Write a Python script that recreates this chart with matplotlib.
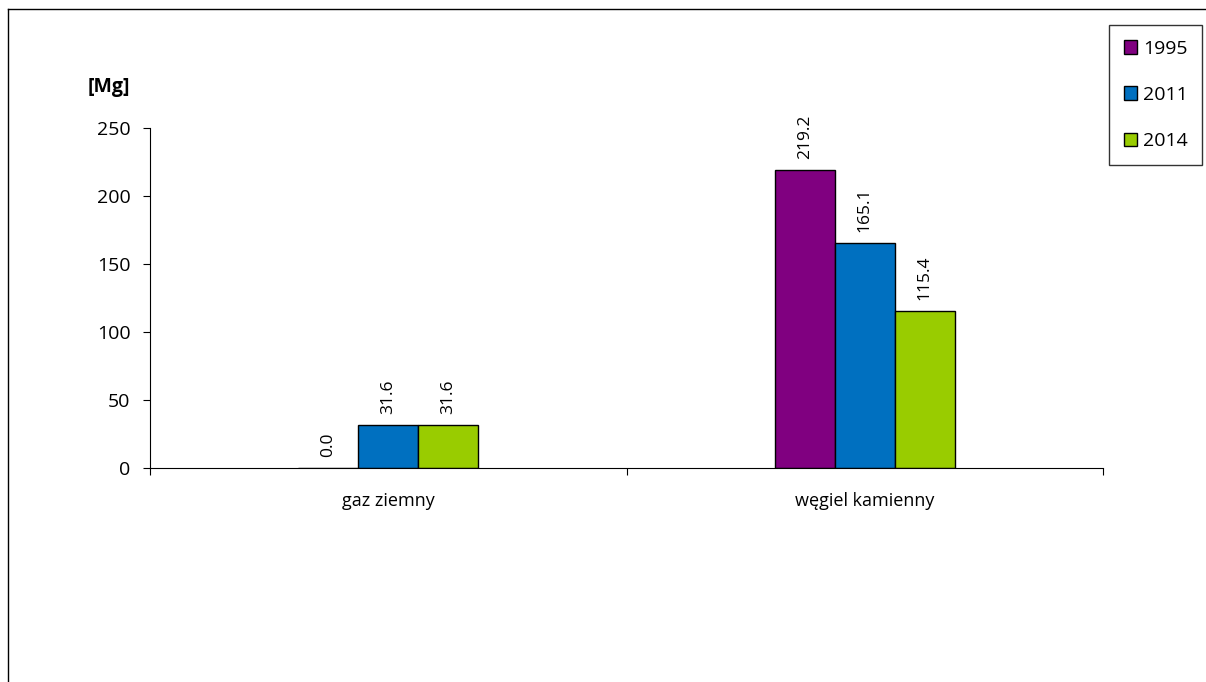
import numpy as np
import matplotlib.pyplot as plt
from matplotlib.lines import Line2D

categories = ["gaz ziemny", "węgiel kamienny"]
years = ["1995", "2011", "2014"]
values_1995 = [0.0, 219.2]
values_2011 = [31.6, 165.1]
values_2014 = [31.6, 115.4]
colors = ["#800080", "#0070C0", "#99CC00"]

plt.rcParams["font.family"] = ["Open Sans", "DejaVu Sans"]

fig = plt.figure(figsize=(12.06, 6.82), dpi=100)
ax = fig.add_axes([0.1244, 0.3138, 0.7902, 0.4985])

series = [values_1995, values_2011, values_2014]
x = np.arange(len(categories)) + 0.5
w = 0.126
for i, (vals, col, lab) in enumerate(zip(series, colors, years)):
    pos = x + (i - 1) * w
    ax.bar(pos, vals, width=w, color=col, edgecolor="black", linewidth=1, label=lab)
    for p, v in zip(pos, vals):
        ax.annotate(f"{v:.1f}", (p, v), xytext=(0, 8), textcoords="offset points",
                    rotation=90, ha="center", va="bottom", fontsize=12.5)

ax.set_xlim(0, len(categories))
ax.set_ylim(0, 250)
ax.set_yticks([0, 50, 100, 150, 200, 250])
ax.set_xticks([0, 1, 2])
ax.set_xticklabels([])
ax.set_xticks(x, minor=True)
ax.set_xticklabels(categories, minor=True, fontsize=13)
ax.tick_params(axis="x", which="minor", length=0, pad=17)
ax.tick_params(axis="x", which="major", length=5, direction="out")
ax.tick_params(axis="y", length=5, labelsize=14, pad=9)
for s in ["top", "right"]:
    ax.spines[s].set_visible(False)

ax.text(-0.066, 1.12, "[Mg]", transform=ax.transAxes, fontsize=14, fontweight="bold",
        ha="left", va="center")

leg = fig.legend(loc="upper right", bbox_to_anchor=(0.997, 0.963), frameon=True,
                 fancybox=False, edgecolor="black", fontsize=14, handlelength=0.7,
                 handleheight=0.7, handletextpad=0.3, labelspacing=1.45,
                 borderpad=0.75, borderaxespad=0)
leg.get_frame().set_linewidth(1)

# outer chart frame (left and top edges visible)
fig.add_artist(Line2D([8 / 1206, 8 / 1206], [0, 1 - 9 / 682], color="black", lw=1,
                      transform=fig.transFigure))
fig.add_artist(Line2D([8 / 1206, 1], [1 - 9 / 682, 1 - 9 / 682], color="black", lw=1,
                      transform=fig.transFigure))

fig.savefig("out.png", dpi=100)
